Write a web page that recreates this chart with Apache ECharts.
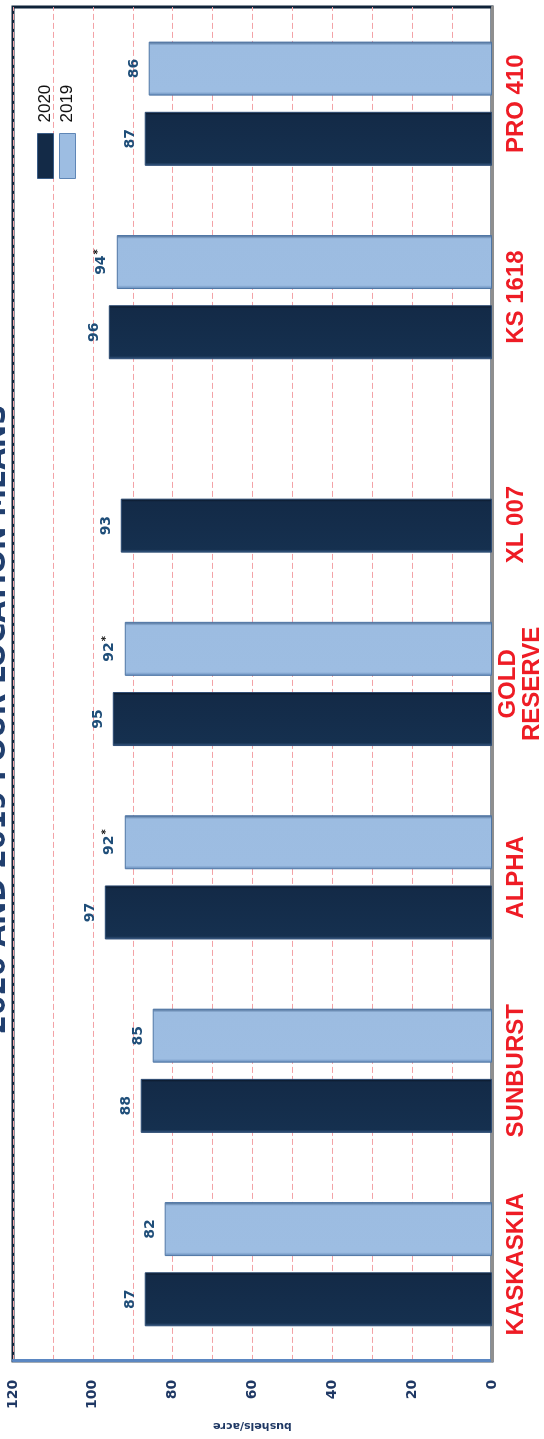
<!DOCTYPE html>
<html><head><meta charset="utf-8">
<script src="https://cdn.jsdelivr.net/npm/echarts@6/dist/echarts.min.js"></script>
<style>
html,body{margin:0;padding:0;width:544px;height:1439px;overflow:hidden;background:#fff;}
#chart{position:absolute;left:0;top:0;width:1439px;height:544px;transform-origin:0 0;transform:translate(0,1439px) rotate(-90deg);}
</style></head><body><div id="chart"></div>
<script>
const titleText = '2020 AND 2019 FOUR LOCATION MEANS';
const categories = ['KASKASKIA', 'SUNBURST', 'ALPHA', 'GOLD\nRESERVE', 'XL 007', 'KS 1618', 'PRO 410'];
const seriesNames = ['2020', '2019'];
const values2020 = [87, 88, 97, 95, 93, 96, 87];
const values2019 = [82, 85, 92, 92, null, 94, 86];
const starred2019 = [false, false, true, true, false, true, false];
const valueAxisName = 'bushels/acre';

const chart = echarts.init(document.getElementById('chart'), null, {renderer: 'canvas'});

const darkFill = new echarts.graphic.LinearGradient(0, 0, 1, 0, [
  {offset: 0, color: '#3a5c86'}, {offset: 0.06, color: '#15304f'},
  {offset: 0.94, color: '#132a47'}, {offset: 1, color: '#08111f'}
]);
const lightFill = new echarts.graphic.LinearGradient(0, 0, 1, 0, [
  {offset: 0, color: '#5f86b6'}, {offset: 0.07, color: '#9dbde2'},
  {offset: 0.93, color: '#9cbce1'}, {offset: 1, color: '#3e5f88'}
]);

const labelRich = {
  v: {fontFamily: 'DejaVu Sans', fontWeight: 'bold', fontSize: 14, color: '#1f4e79'},
  s: {fontFamily: 'DejaVu Sans', fontWeight: 'bold', fontSize: 10, color: '#111', verticalAlign: 'top', padding: [0, 0, 6, 1]}
};
const catFont = {fontFamily: 'Liberation Sans', fontWeight: 'bold', fontSize: 24, color: '#ee1c25'};

chart.setOption({
  animation: false,
  backgroundColor: '#ffffff',
  graphic: [{
    type: 'text', left: 'center', top: -16,
    style: {text: titleText, font: 'bold 28px "DejaVu Sans"', fill: '#213f6e'}
  }],
  legend: {
    orient: 'vertical', left: 1255, top: 32,
    itemWidth: 45, itemHeight: 16, itemGap: 5,
    icon: 'rect',
    textStyle: {fontFamily: 'Liberation Sans', fontSize: 17, lineHeight: 16, color: '#111', padding: [0, 0, 0, 6]},
    data: [
      {name: seriesNames[0], itemStyle: {color: '#132a47', borderColor: '#3a5c86', borderWidth: 1}},
      {name: seriesNames[1], itemStyle: {color: '#9dbde2', borderColor: '#5f86b6', borderWidth: 1}}
    ]
  },
  grid: {
    left: 71, right: 7, top: 13, bottom: 49,
    show: true, borderColor: '#0e2238', borderWidth: 3, backgroundColor: '#fff'
  },
  xAxis: {
    type: 'category', data: categories,
    axisLine: {show: true, lineStyle: {color: '#8f8f8f', width: 3}},
    axisTick: {show: false},
    axisLabel: {
      interval: 0, margin: 4,
      fontFamily: catFont.fontFamily, fontWeight: 'bold', fontSize: 24, lineHeight: 24, color: catFont.color,
      formatter: function (v) {
        if (v.indexOf('\n') >= 0) return v;
        return v === 'XL 007' ? '{x|' + v + '}' : '{p|' + v + '}';
      },
      rich: {
        p: Object.assign({lineHeight: 40}, catFont),
        x: Object.assign({lineHeight: 40, padding: [0, 68, 0, 0]}, catFont)
      }
    }
  },
  yAxis: {
    type: 'value', min: 0, max: 120, interval: 10,
    name: valueAxisName, nameLocation: 'middle', nameGap: 58,
    nameTextStyle: {fontFamily: 'DejaVu Sans', fontWeight: 'bold', fontSize: 11, color: '#1f3864'},
    axisLine: {show: true, lineStyle: {color: '#5b87c2', width: 3}},
    axisTick: {show: false},
    axisLabel: {
      margin: 19, fontFamily: 'DejaVu Sans', fontWeight: 'bold', fontSize: 14, color: '#1f3864',
      formatter: function (v) { return v % 20 === 0 ? String(v) : ''; }
    },
    splitLine: {show: true, lineStyle: {color: '#f3a2a6', width: 1, type: [6, 3]}}
  },
  series: [
    {
      name: seriesNames[0], type: 'bar', data: values2020,
      barWidth: 54, barGap: '30%',
      itemStyle: {color: darkFill, borderColor: '#2c4b73', borderWidth: 1},
      label: {show: true, position: 'top', distance: 7, formatter: function (p) { return '{v|' + p.value + '}'; }, rich: labelRich}
    },
    {
      name: seriesNames[1], type: 'bar', data: values2019,
      barWidth: 54, barGap: '30%',
      itemStyle: {color: lightFill, borderColor: '#4f76a5', borderWidth: 1},
      label: {show: true, position: 'top', distance: 7, rich: labelRich,
        formatter: function (p) { return '{v|' + p.value + '}' + (starred2019[p.dataIndex] ? '{s|*}' : ''); }}
    }
  ]
});
</script></body></html>
